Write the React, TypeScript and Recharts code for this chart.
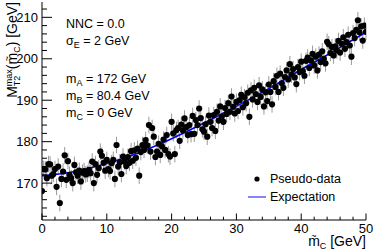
import React from 'react';
import { ComposedChart, Scatter, Line, XAxis, YAxis, ErrorBar } from 'recharts';

// pseudo-data: trial mass (GeV) and MT2 max (GeV)
const X_VALUES = [
  0, 0.25, 0.5, 0.75, 1, 1.25, 1.5, 1.75, 2, 2.25, 2.5, 2.75, 3, 3.25, 3.5, 3.75,
  4, 4.25, 4.5, 4.75, 5, 5.25, 5.5, 5.75, 6, 6.25, 6.5, 6.75, 7, 7.25, 7.5, 7.75,
  8, 8.25, 8.5, 8.75, 9, 9.25, 9.5, 9.75, 10, 10.25, 10.5, 10.75, 11, 11.25, 11.5, 11.75,
  12, 12.25, 12.5, 12.75, 13, 13.25, 13.5, 13.75, 14, 14.25, 14.5, 14.75, 15, 15.25, 15.5, 15.75,
  16, 16.25, 16.5, 16.75, 17, 17.25, 17.5, 17.75, 18, 18.25, 18.5, 18.75, 19, 19.25, 19.5, 19.75,
  20, 20.25, 20.5, 20.75, 21, 21.25, 21.5, 21.75, 22, 22.25, 22.5, 22.75, 23, 23.25, 23.5, 23.75,
  24, 24.25, 24.5, 24.75, 25, 25.25, 25.5, 25.75, 26, 26.25, 26.5, 26.75, 27, 27.25, 27.5, 27.75,
  28, 28.25, 28.5, 28.75, 29, 29.25, 29.5, 29.75, 30, 30.25, 30.5, 30.75, 31, 31.25, 31.5, 31.75,
  32, 32.25, 32.5, 32.75, 33, 33.25, 33.5, 33.75, 34, 34.25, 34.5, 34.75, 35, 35.25, 35.5, 35.75,
  36, 36.25, 36.5, 36.75, 37, 37.25, 37.5, 37.75, 38, 38.25, 38.5, 38.75, 39, 39.25, 39.5, 39.75,
  40, 40.25, 40.5, 40.75, 41, 41.25, 41.5, 41.75, 42, 42.25, 42.5, 42.75, 43, 43.25, 43.5, 43.75,
  44, 44.25, 44.5, 44.75, 45, 45.25, 45.5, 45.75, 46, 46.25, 46.5, 46.75, 47, 47.25, 47.5, 47.75,
  48, 48.25, 48.5, 48.75, 49, 49.25, 49.5, 49.75, 50,
];

const Y_VALUES = [
  168.1, 173.4, 173.3, 171.2, 174.6, 174.5, 171.8, 172.2, 173.4, 169.1, 174.0, 165.2, 171.0, 172.8, 176.7, 170.8,
  175.3, 172.0, 171.2, 170.0, 174.4, 172.6, 171.8, 173.0, 170.4, 172.5, 172.9, 172.1, 172.3, 173.2, 172.4, 175.2,
  170.0, 174.6, 172.0, 173.6, 177.6, 176.6, 174.9, 173.0, 175.6, 173.4, 172.9, 174.8, 175.6, 171.0, 179.2, 174.0,
  175.0, 172.2, 176.4, 175.2, 174.1, 176.3, 174.9, 177.7, 175.4, 177.9, 176.1, 178.3, 171.8, 177.5, 179.2, 178.0,
  180.4, 179.1, 184.0, 177.6, 183.3, 181.2, 176.3, 177.6, 179.5, 176.8, 178.9, 180.5, 178.0, 181.6, 177.0, 176.4,
  184.8, 182.0, 177.0, 182.8, 183.3, 180.2, 184.1, 182.7, 185.6, 183.5, 181.6, 184.0, 181.8, 186.2, 181.9, 185.2,
  184.0, 188.0, 185.7, 183.0, 182.4, 184.2, 181.2, 186.3, 184.8, 183.3, 186.4, 182.6, 187.2, 185.1, 188.5, 186.0,
  184.8, 188.1, 186.7, 189.3, 187.2, 190.9, 188.4, 186.8, 189.6, 187.4, 190.0, 191.3, 188.3, 190.7, 189.3, 191.8,
  186.0, 192.4, 190.2, 193.0, 191.5, 189.6, 193.6, 190.8, 192.6, 188.5, 191.9, 189.8, 193.8, 192.0, 189.0, 194.6,
  193.2, 195.9, 192.0, 196.4, 194.1, 193.0, 195.6, 197.2, 195.0, 198.7, 196.2, 197.5, 195.5, 193.9, 198.0, 196.8,
  199.3, 197.0, 195.9, 199.5, 200.3, 197.8, 199.6, 201.2, 198.4, 200.5, 197.2, 201.0, 199.2, 201.8, 200.0, 198.9,
  204.1, 203.5, 201.4, 202.8, 200.8, 203.0, 202.0, 204.3, 201.5, 203.6, 205.2, 202.4, 204.0, 205.8, 203.2, 200.5,
  206.2, 205.0, 207.0, 209.3, 206.4, 207.8, 204.4, 208.0, 206.5,
];

const SIGMA_E = 2;

// expectation curve
const EXP_X = [0, 4, 8, 12, 16, 20, 24, 28, 32, 36, 40, 44, 48, 50];
const EXP_Y = [171.8, 172.5, 173.9, 175.7, 178.0, 180.7, 183.7, 186.9, 190.2, 193.7, 197.4, 200.9, 204.6, 206.4];

// ticks
const X_MAJOR = [0, 10, 20, 30, 40, 50];
const X_ALL = [0, 2, 4, 6, 8, 10, 12, 14, 16, 18, 20, 22, 24, 26, 28, 30, 32, 34, 36, 38, 40, 42, 44, 46, 48, 50];
const Y_MAJOR = [170, 180, 190, 200, 210];
const Y_ALL = [162, 164, 166, 168, 170, 172, 174, 176, 178, 180, 182, 184, 186, 188, 190, 192, 194, 196, 198, 200, 202, 204, 206, 208, 210, 212];

const X_DOMAIN: [number, number] = [0, 50];
const Y_DOMAIN: [number, number] = [161.1, 213.7];

const FONT = '"Liberation Sans", Arial, Helvetica, sans-serif';

const points = X_VALUES.map((x, i) => ({ x, y: Y_VALUES[i], err: SIGMA_E }));
const expData = EXP_X.map((x, i) => ({ x, y: EXP_Y[i] }));

const BottomTick = (props: any) => {
  const { x, y, payload } = props;
  const major = X_MAJOR.includes(payload.value);
  return (
    <g>
      <line x1={x} x2={x} y1={y} y2={y - (major ? 6.5 : 3.3)} stroke="#000" strokeWidth={1} />
      {major && (
        <text x={x} y={y + 13} textAnchor="middle" fontSize={13} fontFamily={FONT} fill="#000">
          {payload.value}
        </text>
      )}
    </g>
  );
};

const TopTick = (props: any) => {
  const { x, y, payload } = props;
  const major = X_MAJOR.includes(payload.value);
  return <line x1={x} x2={x} y1={y} y2={y + (major ? 6.5 : 3.3)} stroke="#000" strokeWidth={1} />;
};

const LeftTick = (props: any) => {
  const { x, y, payload } = props;
  const major = Y_MAJOR.includes(payload.value);
  return (
    <g>
      <line x1={x} x2={x + (major ? 10 : 5)} y1={y} y2={y} stroke="#000" strokeWidth={1} />
      {major && (
        <text x={x - 4} y={y + 4.6} textAnchor="end" fontSize={13} fontFamily={FONT} fill="#000">
          {payload.value}
        </text>
      )}
    </g>
  );
};

const RightTick = (props: any) => {
  const { x, y, payload } = props;
  const major = Y_MAJOR.includes(payload.value);
  return <line x1={x} x2={x - (major ? 10 : 5)} y1={y} y2={y} stroke="#000" strokeWidth={1} />;
};

const Dot = (p: any) => <circle cx={p.cx} cy={p.cy} r={3.1} fill="#000" />;

export default function App() {
  const sub = 9;
  return (
    <div style={{ position: 'absolute', left: 0, top: 0, width: 374, height: 251, background: '#fff' }}>
      <ComposedChart width={374} height={251} margin={{ top: 2, right: 8, bottom: 0, left: 0 }}>
        <XAxis
          xAxisId="b"
          dataKey="x"
          type="number"
          orientation="bottom"
          domain={X_DOMAIN}
          ticks={X_ALL}
          interval={0}
          height={31}
          tickSize={0}
          tickMargin={0}
          tickLine={false}
          tick={<BottomTick />}
          axisLine={{ stroke: '#000', strokeWidth: 1 }}
          allowDataOverflow
        />
        <XAxis
          xAxisId="t"
          type="number"
          orientation="top"
          domain={X_DOMAIN}
          ticks={X_ALL}
          interval={0}
          height={0}
          tickSize={0}
          tickMargin={0}
          tickLine={false}
          tick={<TopTick />}
          axisLine={{ stroke: '#000', strokeWidth: 1 }}
          allowDataOverflow
        />
        <YAxis
          yAxisId="l"
          type="number"
          orientation="left"
          domain={Y_DOMAIN}
          ticks={Y_ALL}
          interval={0}
          width={42}
          tickSize={0}
          tickMargin={0}
          tickLine={false}
          tick={<LeftTick />}
          axisLine={{ stroke: '#000', strokeWidth: 1 }}
          allowDataOverflow
        />
        <YAxis
          yAxisId="r"
          type="number"
          orientation="right"
          domain={Y_DOMAIN}
          ticks={Y_ALL}
          interval={0}
          width={0}
          tickSize={0}
          tickMargin={0}
          tickLine={false}
          tick={<RightTick />}
          axisLine={{ stroke: '#000', strokeWidth: 1 }}
          allowDataOverflow
        />
        <Scatter
          data={points}
          dataKey="y"
          xAxisId="b"
          yAxisId="l"
          shape={<Dot />}
          isAnimationActive={false}
        >
          <ErrorBar dataKey="err" direction="y" width={0} stroke="#9a9a9a" strokeWidth={1} isAnimationActive={false} />
        </Scatter>
        <Line
          data={expData}
          dataKey="y"
          xAxisId="b"
          yAxisId="l"
          type="monotone"
          stroke="#0000ff"
          strokeWidth={1.6}
          dot={false}
          activeDot={false}
          isAnimationActive={false}
        />
      </ComposedChart>
      <svg
        width={374}
        height={251}
        style={{ position: 'absolute', left: 0, top: 0, pointerEvents: 'none' }}
        fontFamily={FONT}
      >
        {/* y title */}
        <text transform="translate(17,2) rotate(-90)" textAnchor="end" fontSize={14} fill="#000">
          <tspan>M</tspan>
          <tspan fontSize={sub} dy={3}>T2</tspan>
          <tspan fontSize={sub} dx={-10.5} dy={-8.5}>max</tspan>
          <tspan dy={5.5}>(m</tspan>
          <tspan fontSize={9} dx={-8.5} dy={-7.5}>~</tspan>
          <tspan fontSize={sub} dx={3.2} dy={10.5}>C</tspan>
          <tspan dy={-3}>) [GeV]</tspan>
        </text>
        {/* x title */}
        <text x={366} y={246} textAnchor="end" fontSize={14} fill="#000">
          <tspan>m</tspan>
          <tspan fontSize={9} dx={-8.5} dy={-7.5}>~</tspan>
          <tspan fontSize={sub} dx={3.2} dy={10.5}>C</tspan>
          <tspan dy={-3}> [GeV]</tspan>
        </text>
        {/* annotations */}
        <g fontSize={12.5} fill="#000">
          <text x={66} y={28}>NNC = 0.0</text>
          <text x={66} y={45}>
            <tspan>σ</tspan>
            <tspan fontSize={sub} dy={3}>E</tspan>
            <tspan dy={-3}> = 2 GeV</tspan>
          </text>
          <text x={66} y={83}>
            <tspan>m</tspan>
            <tspan fontSize={sub} dy={3}>A</tspan>
            <tspan dy={-3}> = 172 GeV</tspan>
          </text>
          <text x={66} y={100}>
            <tspan>m</tspan>
            <tspan fontSize={sub} dy={3}>B</tspan>
            <tspan dy={-3}> = 80.4 GeV</tspan>
          </text>
          <text x={66} y={117}>
            <tspan>m</tspan>
            <tspan fontSize={sub} dy={3}>C</tspan>
            <tspan dy={-3}> = 0 GeV</tspan>
          </text>
        </g>
        {/* legend */}
        <circle cx={257} cy={179} r={2.6} fill="#000" />
        <text x={270} y={183} fontSize={12.5} fill="#000">Pseudo-data</text>
        <line x1={248} x2={266} y1={197} y2={197} stroke="#3333ff" strokeWidth={1.2} />
        <text x={270} y={201} fontSize={12.5} fill="#000">Expectation</text>
      </svg>
    </div>
  );
}
